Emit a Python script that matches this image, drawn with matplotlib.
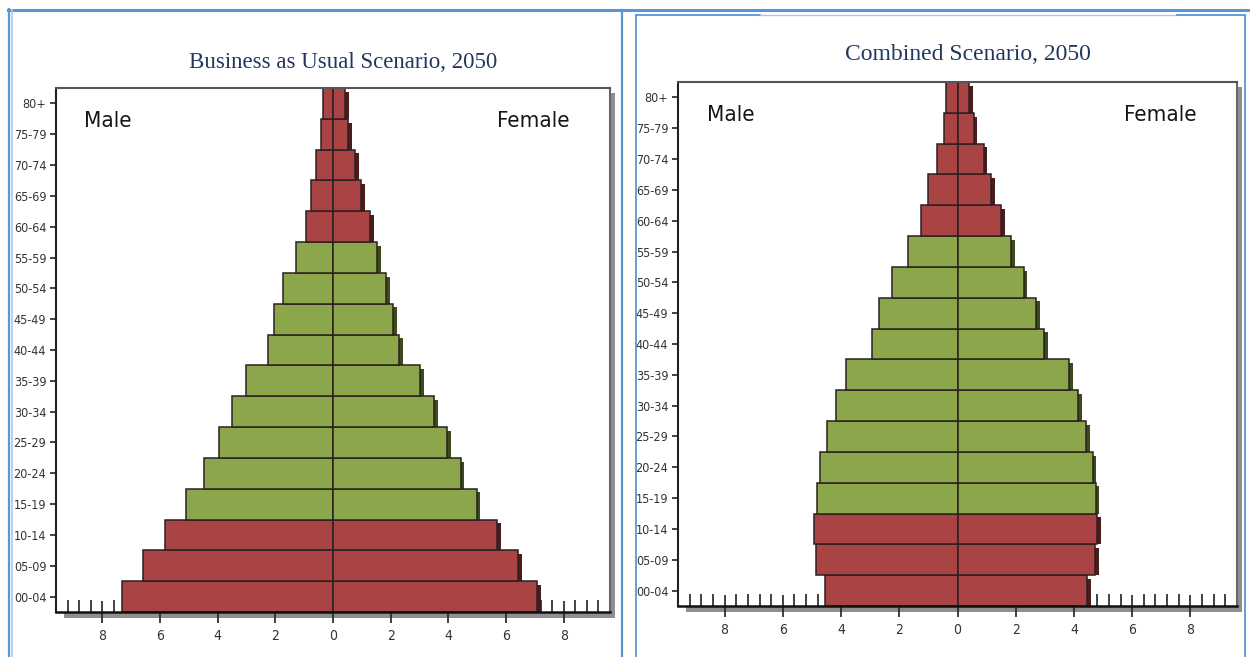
import matplotlib.pyplot as plt
from matplotlib import font_manager
from matplotlib.lines import Line2D
from matplotlib.patches import Rectangle
from matplotlib.ticker import FixedLocator, MultipleLocator, FuncFormatter

AGE_GROUPS = ["00-04", "05-09", "10-14", "15-19", "20-24", "25-29", "30-34",
              "35-39", "40-44", "45-49", "50-54", "55-59", "60-64", "65-69",
              "70-74", "75-79", "80+"]
# working-age bands are drawn green, dependent ages red
WORKING_AGE = [False, False, False, True, True, True, True, True, True,
               True, True, True, False, False, False, False, False]

BAU_MALE = [7.30, 6.59, 5.81, 5.11, 4.48, 3.96, 3.50, 3.02, 2.26, 2.05,
            1.74, 1.28, 0.95, 0.77, 0.60, 0.43, 0.35]
BAU_FEMALE = [7.08, 6.42, 5.69, 4.98, 4.42, 3.96, 3.50, 3.02, 2.29, 2.08,
              1.84, 1.53, 1.28, 0.97, 0.76, 0.52, 0.42]
COMB_MALE = [4.55, 4.86, 4.94, 4.82, 4.73, 4.49, 4.18, 3.84, 2.95, 2.70,
             2.26, 1.71, 1.27, 1.00, 0.72, 0.48, 0.38]
COMB_FEMALE = [4.44, 4.73, 4.80, 4.74, 4.64, 4.43, 4.15, 3.84, 2.97, 2.70,
               2.27, 1.85, 1.50, 1.15, 0.90, 0.55, 0.40]

X_TICKS = [-8, -6, -4, -2, 0, 2, 4, 6, 8]

RED, RED_DARK = "#AA4444", "#4a1c1c"
GREEN, GREEN_DARK = "#8CA64B", "#3c4a1c"
EDGE = "#2b2020"
NAVY = "#22375f"
BLUE, BLUE_LIGHT = "#5a96d2", "#a9c8ea"

W, H = 1250, 657

# narrow sans for the chart labels, if a condensed face is around
_names = {f.name for f in font_manager.fontManager.ttflist}
if "Liberation Sans Narrow" in _names:
    NARROW = dict(family="Liberation Sans Narrow")
else:
    NARROW = dict(family="DejaVu Sans", stretch="condensed")


def box(left, top, right, bottom):
    """Pixel box (top-left origin) -> figure fraction rect."""
    return [left / W, 1 - bottom / H, (right - left) / W, (bottom - top) / H]


def fig_line(fig, xs, ys, color, lw):
    fig.add_artist(Line2D([x / W for x in xs], [1 - y / H for y in ys],
                          color=color, lw=lw, transform=fig.transFigure))


def fig_rect(fig, left, top, right, bottom, color):
    fig.add_artist(Rectangle((left / W, 1 - bottom / H), (right - left) / W,
                             (bottom - top) / H, color=color, lw=0,
                             transform=fig.transFigure, zorder=-1))


def pyramid(fig, rect_px, male, female):
    left, top, right, bottom = rect_px
    ax = fig.add_axes(box(*rect_px))
    y = list(range(len(AGE_GROUPS)))
    faces = [GREEN if w else RED for w in WORKING_AGE]
    darks = [GREEN_DARK if w else RED_DARK for w in WORKING_AGE]

    # 3-D shadow to the right of the female bars
    ax.barh([v - 0.06 for v in y], [f + 0.13 for f in female], height=0.88,
            color=darks, lw=0, zorder=1)
    ax.barh(y, [-m for m in male], height=1.0, color=faces, edgecolor=EDGE,
            lw=1.1, zorder=2)
    ax.barh(y, female, height=1.0, color=faces, edgecolor=EDGE, lw=1.1,
            zorder=2)

    ax.set_xlim(-9.6, 9.6)
    ax.set_ylim(-0.5, len(AGE_GROUPS) - 0.5)

    ax.xaxis.set_major_locator(FixedLocator(X_TICKS))
    ax.xaxis.set_minor_locator(MultipleLocator(0.4))
    ax.xaxis.set_major_formatter(FuncFormatter(lambda v, _: f"{abs(v):g}"))
    ax.tick_params(axis="x", which="major", direction="inout", length=16,
                   width=1.2, color="#222222", pad=4, labelsize=10,
                   labelcolor="#333333")
    ax.tick_params(axis="x", which="minor", direction="in", length=9,
                   width=1.2, color="#222222")
    ax.set_yticks(y)
    ax.set_yticklabels(AGE_GROUPS)
    ax.tick_params(axis="y", direction="out", length=4, width=1.2,
                   color="#222222", pad=3, labelsize=9, labelcolor="#333333")
    for lab in ax.get_xticklabels() + ax.get_yticklabels():
        lab.set_family(NARROW["family"])
        if "stretch" in NARROW:
            lab.set_stretch(NARROW["stretch"])

    ax.spines["left"].set_color("#222222")
    ax.spines["left"].set_linewidth(1.5)
    ax.spines["bottom"].set_color("#111111")
    ax.spines["bottom"].set_linewidth(1.8)
    ax.spines["top"].set_color("#555555")
    ax.spines["top"].set_linewidth(1.5)
    ax.spines["right"].set_color("#666666")
    ax.spines["right"].set_linewidth(1.5)

    # drop shadow of the frame
    fig_rect(fig, left + 8, bottom + 1, right + 5, bottom + 6, "#8f8f8f")
    fig_rect(fig, right + 1, top + 5, right + 5, bottom + 6, "#8f8f8f")

    ax.text(0.094, 0.937, "Male", transform=ax.transAxes, ha="center",
            va="center", fontsize=16, color="#151515", **NARROW)
    ax.text(0.862, 0.937, "Female", transform=ax.transAxes, ha="center",
            va="center", fontsize=16, color="#151515", **NARROW)
    return ax


fig = plt.figure(figsize=(W / 100, H / 100), dpi=100)
fig.patch.set_facecolor("white")

pyramid(fig, (56, 88, 610, 612), BAU_MALE, BAU_FEMALE)
pyramid(fig, (678, 82, 1237, 606), COMB_MALE, COMB_FEMALE)

fig.text(343 / W, 1 - 63 / H, "Business as Usual Scenario, 2050", ha="center",
         va="center", fontsize=16.5, family="Liberation Serif", color=NAVY)
fig.text(968 / W, 1 - 55 / H, "Combined Scenario, 2050", ha="center",
         va="center", fontsize=17, family="Liberation Serif", color=NAVY)

# page borders
fig_line(fig, [8, 1250], [9.5, 9.5], BLUE, 2.2)
fig_line(fig, [9, 9], [9, 657], BLUE, 1.6)
fig_line(fig, [12, 12], [10, 657], BLUE_LIGHT, 1.2)
fig_line(fig, [622, 622], [10, 657], BLUE, 1.6)
fig_line(fig, [636, 636], [15, 657], BLUE, 1.3)
fig_line(fig, [636, 760], [15, 15], BLUE, 1.3)
fig_line(fig, [760, 1177], [15, 15], BLUE_LIGHT, 1.0)
fig_line(fig, [1177, 1245], [15, 15], BLUE, 1.3)
fig_line(fig, [1245, 1245], [15, 657], BLUE, 1.3)

fig.savefig("out.png", dpi=100)
